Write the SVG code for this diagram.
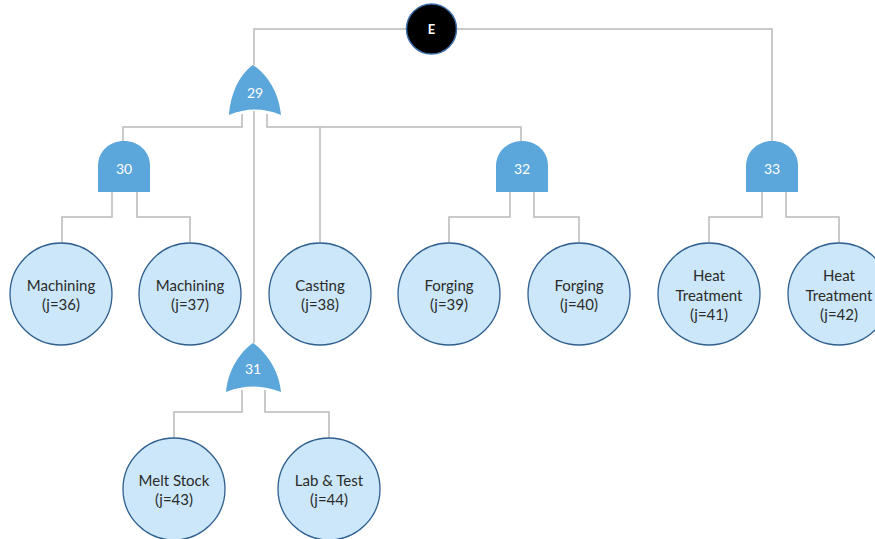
<svg xmlns="http://www.w3.org/2000/svg" width="875" height="539" viewBox="0 0 875 539">
  <defs>
    <style>
      .wire { fill: none; stroke: #b9b9b9; stroke-width: 1.5; }
      .gate { fill: #5ba6da; stroke: none; }
      .gate-label { fill: #ffffff; font-family: Lato, "Open Sans", sans-serif; font-size: 14px; text-anchor: middle; }
      .event { fill: #cbe7f9; stroke: #2f5f8f; stroke-width: 1.3; }
      .event-label { fill: #2b2b2b; font-family: Lato, "Open Sans", sans-serif; font-size: 15px; text-anchor: middle; }
      .top { fill: #000000; stroke: #3d6ea8; stroke-width: 1.5; }
      .top-label { fill: #ffffff; font-family: Lato, "Open Sans", sans-serif; font-size: 13px; font-weight: bold; text-anchor: middle; }
    </style>
  </defs>
  <rect width="875" height="539" fill="#ffffff"/>

  <!-- connectors -->
  <g id="connectors">
    <path class="wire" d="M406,29 H254 V65"/>
    <path class="wire" d="M457,29 H772 V142"/>
    <path class="wire" d="M242,114 V127 H123 V141"/>
    <path class="wire" d="M254,111 V343"/>
    <path class="wire" d="M267,114 V127 H521 V141"/>
    <path class="wire" d="M320,127 V243"/>
    <path class="wire" d="M112,192 V217 H62 V243"/>
    <path class="wire" d="M137,192 V217 H190 V243"/>
    <path class="wire" d="M510,192 V217 H449 V243"/>
    <path class="wire" d="M534,192 V217 H579 V243"/>
    <path class="wire" d="M762,192 V217 H709 V243"/>
    <path class="wire" d="M786,192 V217 H839 V243"/>
    <path class="wire" d="M242,390 V412 H174 V438"/>
    <path class="wire" d="M265,390 V412 H329 V438"/>
  </g>

  <!-- top event -->
  <g id="E">
    <circle class="top" cx="431.5" cy="29" r="25"/>
    <text class="top-label" x="431.5" y="34">E</text>
  </g>

  <!-- OR gates -->
  <g id="gate29">
    <path class="gate" d="M253,65 C240,74 231,92 229,115 Q255,104 281,115 C279,92 267,74 253,65 Z"/>
    <text class="gate-label" x="255" y="98">29</text>
  </g>
  <g id="gate31">
    <path class="gate" d="M253,343 C240,352 228,370 226,392 Q253,381 281,392 C279,370 266,352 253,343 Z"/>
    <text class="gate-label" x="253" y="374">31</text>
  </g>

  <!-- AND gates -->
  <g id="gate30">
    <path class="gate" d="M98,192 V166 C98,151 110,141 124,141 C138,141 150,151 150,166 V192 Z"/>
    <text class="gate-label" x="124" y="174">30</text>
  </g>
  <g id="gate32">
    <path class="gate" d="M496,192 V166 C496,151 508,141 522,141 C536,141 548,151 548,166 V192 Z"/>
    <text class="gate-label" x="522" y="174">32</text>
  </g>
  <g id="gate33">
    <path class="gate" d="M746,192 V166 C746,151 758,141 772,141 C786,141 798,151 798,166 V192 Z"/>
    <text class="gate-label" x="772" y="174">33</text>
  </g>

  <!-- basic events -->
  <g id="j36">
    <circle class="event" cx="61" cy="294" r="51"/>
    <text class="event-label" x="61" y="291">Machining</text>
    <text class="event-label" x="61" y="310">(j=36)</text>
  </g>
  <g id="j37">
    <circle class="event" cx="190" cy="294" r="51"/>
    <text class="event-label" x="190" y="291">Machining</text>
    <text class="event-label" x="190" y="310">(j=37)</text>
  </g>
  <g id="j38">
    <circle class="event" cx="320" cy="294" r="51"/>
    <text class="event-label" x="320" y="291">Casting</text>
    <text class="event-label" x="320" y="310">(j=38)</text>
  </g>
  <g id="j39">
    <circle class="event" cx="449" cy="294" r="51"/>
    <text class="event-label" x="449" y="291">Forging</text>
    <text class="event-label" x="449" y="310">(j=39)</text>
  </g>
  <g id="j40">
    <circle class="event" cx="579" cy="294" r="51"/>
    <text class="event-label" x="579" y="291">Forging</text>
    <text class="event-label" x="579" y="310">(j=40)</text>
  </g>
  <g id="j41">
    <circle class="event" cx="709" cy="294" r="51"/>
    <text class="event-label" x="709" y="281">Heat</text>
    <text class="event-label" x="709" y="301">Treatment</text>
    <text class="event-label" x="709" y="320">(j=41)</text>
  </g>
  <g id="j42">
    <circle class="event" cx="839" cy="294" r="51"/>
    <text class="event-label" x="839" y="281">Heat</text>
    <text class="event-label" x="839" y="301">Treatment</text>
    <text class="event-label" x="839" y="320">(j=42)</text>
  </g>
  <g id="j43">
    <circle class="event" cx="174" cy="489" r="51"/>
    <text class="event-label" x="174" y="486">Melt Stock</text>
    <text class="event-label" x="174" y="505">(j=43)</text>
  </g>
  <g id="j44">
    <circle class="event" cx="329" cy="489" r="51"/>
    <text class="event-label" x="329" y="486">Lab &amp; Test</text>
    <text class="event-label" x="329" y="505">(j=44)</text>
  </g>
</svg>
